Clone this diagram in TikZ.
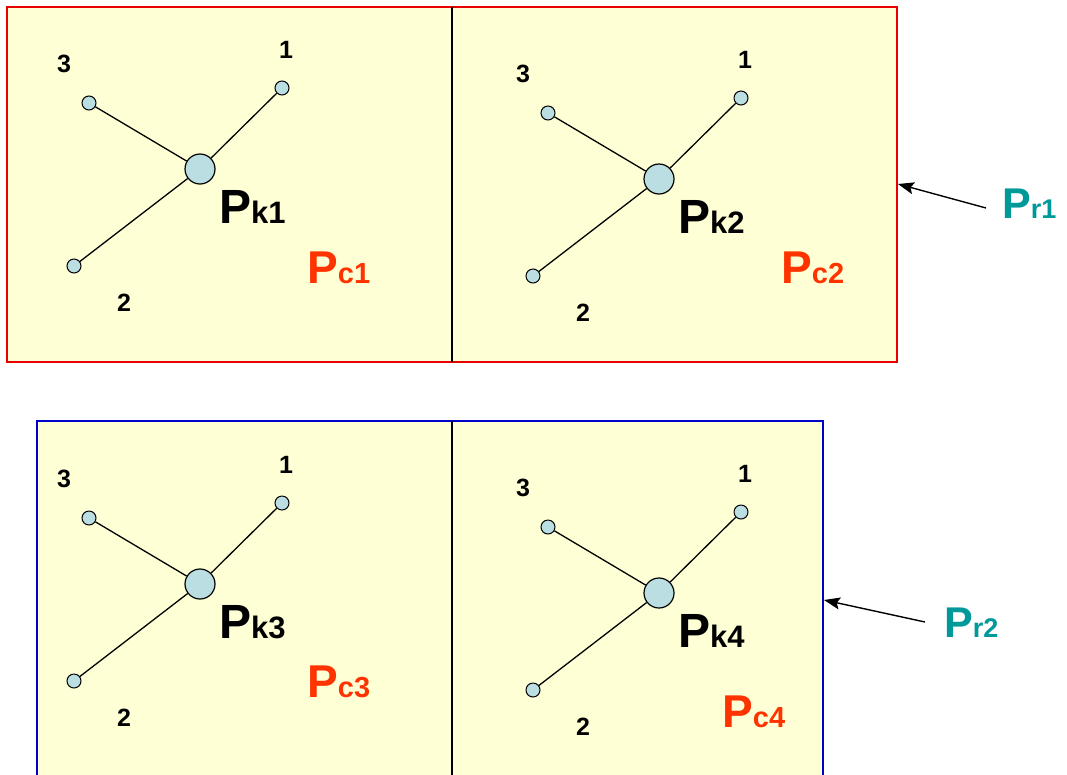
\documentclass[tikz,border=0pt]{standalone}
\usepackage{fontspec}
\setmainfont{Liberation Sans}
\usetikzlibrary{arrows.meta}
\definecolor{panelfill}{RGB}{255,255,214}
\definecolor{nodefill}{RGB}{186,222,226}
\definecolor{pcred}{RGB}{255,51,0}
\definecolor{prteal}{RGB}{0,153,153}
\definecolor{boxred}{RGB}{230,0,0}
\definecolor{boxblue}{RGB}{0,0,204}
\newcommand{\bigsub}[4]{{\fontsize{#1}{#1}\selectfont\bfseries #3}{\fontsize{#2}{#2}\selectfont\bfseries #4}}
\newcommand{\starpanel}[4]{%
  \begin{scope}[shift={(#2,#3)}]
    \node[hub] (h#1) at (0,0) {};
    \node[leaf] (a#1) at (82,-81) {};
    \node[leaf] (b#1) at (-126,97) {};
    \node[leaf] (c#1) at (-111,-66) {};
    \draw[link] (a#1) -- (h#1);
    \draw[link] (b#1) -- (h#1);
    \draw[link] (c#1) -- (h#1);
    \node[num] (na#1) at (86,-119) {1};
    \node[num] (nb#1) at (-76,134) {2};
    \node[num] (nc#1) at (-136,-105) {3};
    \node[lbl] (k#1) at (19,54) {\bigsub{48}{31}{P}{k#4}};
  \end{scope}}
\begin{document}
\begin{tikzpicture}[x=1pt,y=-1pt,
  hub/.style={circle,draw,fill=nodefill,minimum size=30pt,inner sep=0pt,line width=1.2pt},
  leaf/.style={circle,draw,fill=nodefill,minimum size=14pt,inner sep=0pt,line width=1pt},
  num/.style={font=\fontsize{25}{25}\selectfont\bfseries,inner sep=0pt},
  lbl/.style={anchor=base west,inner sep=0pt},
  link/.style={line width=1.3pt},
  panel/.style={fill=panelfill,line width=1.6pt},
  divider/.style={line width=1.4pt},
  pointer/.style={line width=1.4pt,-{Stealth[length=16pt,width=12pt,inset=3pt]}}]
\useasboundingbox (0,0) rectangle (1067,774);
\clip (0,0) rectangle (1067,774);
% top box
\draw[panel,draw=boxred] (7,7) rectangle (897,362);
\draw[divider] (452,7) -- (452,362);
% bottom box
\draw[panel,draw=boxblue] (37,421) rectangle (823,790);
\draw[divider] (452,421) -- (452,790);
\starpanel{1}{200}{169}{1}
\starpanel{2}{659}{179}{2}
\starpanel{3}{200}{584}{3}
\starpanel{4}{659}{593}{4}
\node[lbl,text=pcred] (c1) at (307,283) {\bigsub{46}{29}{P}{c1}};
\node[lbl,text=pcred] (c2) at (781,283) {\bigsub{46}{29}{P}{c2}};
\node[lbl,text=pcred] (c3) at (307,697) {\bigsub{46}{29}{P}{c3}};
\node[lbl,text=pcred] (c4) at (722,727) {\bigsub{46}{29}{P}{c4}};
\node[lbl,text=prteal] (r1) at (1002,218) {\bigsub{43}{27}{P}{r1}};
\node[lbl,text=prteal] (r2) at (944,637) {\bigsub{43}{27}{P}{r2}};
\coordinate (t1) at (986,208);
\coordinate (e1) at (898,184);
\coordinate (t2) at (925,622);
\coordinate (e2) at (824,600);
\draw[pointer] (t1) -- (e1);
\draw[pointer] (t2) -- (e2);
\end{tikzpicture}
\end{document}
